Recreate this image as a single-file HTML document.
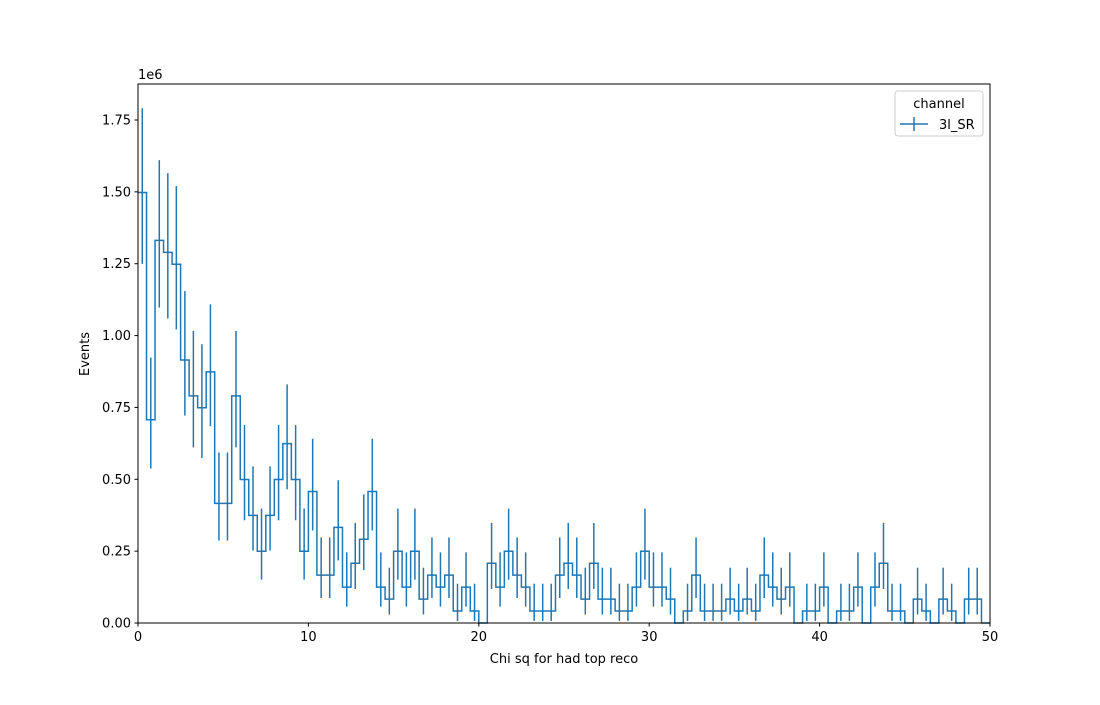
<!DOCTYPE html>
<html><head><meta charset="utf-8"><style>
body{margin:0;background:#fff}
svg text{font-family:"DejaVu Sans","Liberation Sans",sans-serif;font-size:13px;fill:#000}
</style></head><body>
<svg id="chart" width="1100" height="700" xmlns="http://www.w3.org/2000/svg">
<rect x="0" y="0" width="1100" height="700" fill="#fff"/>
<g id="marks"></g>
<g id="axes"></g>
<rect x="138" y="84" width="852" height="539" fill="none" stroke="#000" stroke-width="1"/>
<text x="138" y="79">1e6</text>
<text x="564" y="663" text-anchor="middle">Chi sq for had top reco</text>
<text transform="translate(89,354) rotate(-90)" text-anchor="middle">Events</text>
<g>
<rect x="895" y="91" width="88" height="45" rx="3" fill="#fff" stroke="#ccc"/>
<text x="939" y="108" text-anchor="middle">channel</text>
<line x1="900" y1="124" x2="928" y2="124" stroke="#1f77b4" stroke-width="1.5"/>
<line x1="914" y1="117" x2="914" y2="131" stroke="#1f77b4" stroke-width="1.5"/>
<text x="939" y="129">3l_SR</text>
</g>
</svg>
<script>
const binEdgesStart = 0;
const binWidth = 0.5;
const counts = [36,17,32,31,30,22,19,18,21,10,
10,19,12,9,6,9,12,15,12,6,
11,4,4,8,3,5,7,11,3,2,
6,3,6,2,4,3,4,1,3,1,
0,5,3,6,4,3,1,1,1,4,
5,4,2,5,2,2,1,1,3,6,
3,3,2,0,1,4,1,1,1,2,
1,2,1,4,3,2,3,0,1,1,
3,0,1,1,3,0,3,5,1,1,
0,2,1,0,2,1,0,2,2,0];
const eventWeight = 0.0416; // in units of 1e6
const yTicks = [0,0.25,0.5,0.75,1.0,1.25,1.5,1.75];
const yTickLabels = ["0.00","0.25","0.50","0.75","1.00","1.25","1.50","1.75"];
const xTicks = [0,10,20,30,40,50];
const xTickLabels = ["0","10","20","30","40","50"];

const NS="http://www.w3.org/2000/svg";
const X0=138,X1=990,Y0=623,YTOP=120;
const xs = v => X0 + (v-0)/(50-0)*(X1-X0);
const ys = v => Y0 - v/1.75*(Y0-YTOP);
function mk(tag,attrs,parent){const e=document.createElementNS(NS,tag);for(const k in attrs)e.setAttribute(k,attrs[k]);parent.appendChild(e);return e;}
const marks=document.getElementById('marks'), axes=document.getElementById('axes');
// garwood-like interval (Wilson-Hilferty)
function lo(n){if(n<=0)return 0;return n*Math.pow(1-1/(9*n)-1/(3*Math.sqrt(n)),3);}
function hi(n){const m=n+1;return m*Math.pow(1-1/(9*m)+1/(3*Math.sqrt(m)),3);}
let d='';
counts.forEach((c,i)=>{
  const a=binEdgesStart+i*binWidth,b=a+binWidth,v=c*eventWeight;
  d+=(i===0?'M':'L')+xs(a)+','+ys(v)+'L'+xs(b)+','+ys(v);
});
const step=mk('path',{d:d,fill:'none',stroke:'#1f77b4','stroke-width':1.5},marks);


counts.forEach((c,i)=>{
  if(c<=0)return;
  const xc=xs(binEdgesStart+(i+0.5)*binWidth);
  const e=mk('line',{x1:xc,x2:xc,y1:ys(lo(c)*eventWeight),y2:ys(hi(c)*eventWeight),stroke:'#1f77b4','stroke-width':1.5},marks);
  
  
});
yTicks.forEach((t,i)=>{
  const y=ys(t);
  const l=mk('line',{x1:X0-3.5,x2:X0,y1:y,y2:y,stroke:'#000'},axes);
  
  
  const tx=mk('text',{x:X0-7,y:y+4.5,'text-anchor':'end'},axes);
  tx.textContent=yTickLabels[i];
  
  
});
xTicks.forEach((t,i)=>{
  const x=xs(t);
  const l=mk('line',{x1:x,x2:x,y1:Y0,y2:Y0+3.5,stroke:'#000'},axes);
  
  
  const tx=mk('text',{x:x,y:Y0+18,'text-anchor':'middle'},axes);
  tx.textContent=xTickLabels[i];
  
  
});
</script>
</body></html>
